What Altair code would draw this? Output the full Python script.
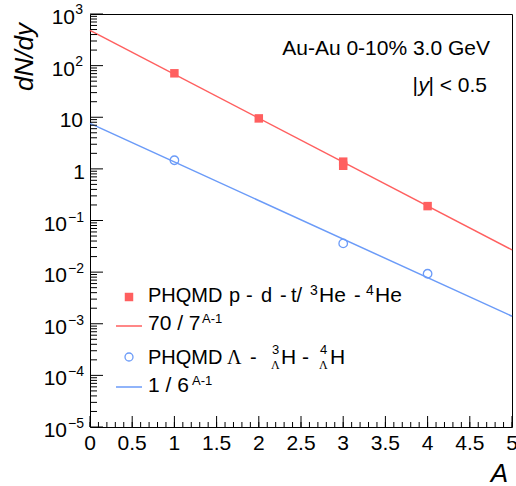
import altair as alt
import pandas as pd

# ---- data ----
A_nuclei = [1, 2, 3, 3, 4]
dndy_nuclei = [71, 9.5, 1.38, 1.15, 0.19]
A_hyper = [1, 3, 4]
dndy_hyper = [1.47, 0.036, 0.0093]
fit_A = [0, 5]
fit_nuclei = [480, 0.027]
fit_hyper = [7.6, 0.0014]

x_ticks = [0, 0.5, 1, 1.5, 2, 2.5, 3, 3.5, 4, 4.5, 5]
x_tick_labels = ["0", "0.5", "1", "1.5", "2", "2.5", "3", "3.5", "4", "4.5", "5"]
x_minor = [i / 10 for i in range(51)]
y_exps = [-5, -4, -3, -2, -1, 0, 1, 2, 3]
y_minor = [m * 10.0 ** k for k in range(-5, 3) for m in range(2, 10)]

RED = "#ff5f5f"
BLUE = "#6b9bf8"
FONT = "Liberation Sans"
W, H = 422, 413

xs = alt.Scale(domain=[0, 5], nice=False, zero=False)
ys = alt.Scale(type="log", domain=[1e-5, 1e3], nice=False)

def X(f):
    return alt.X(f, scale=xs, axis=None)

def Y(f):
    return alt.Y(f, scale=ys, axis=None)

def one():
    return pd.DataFrame({"t": [""]})

def txt(s, x, y, size=20, align="left", style="normal", font=FONT, angle=None, dy=0):
    kw = dict(align=align, baseline="alphabetic", fontSize=size, font=font,
              fontStyle=style, color="black")
    if angle is not None:
        kw["angle"] = angle
    if dy:
        kw["dy"] = dy
    return alt.Chart(pd.DataFrame({"t": [s]})).mark_text(**kw).encode(
        text="t:N", x=alt.value(x), y=alt.value(y))

layers = []

# fit lines
fitdf = pd.DataFrame({"A": fit_A, "red": fit_nuclei, "blue": fit_hyper})
layers.append(alt.Chart(fitdf).mark_line(color=RED, strokeWidth=1.5).encode(x=X("A:Q"), y=Y("red:Q")))
layers.append(alt.Chart(fitdf).mark_line(color=BLUE, strokeWidth=1.5).encode(x=X("A:Q"), y=Y("blue:Q")))

# points
ndf = pd.DataFrame({"A": A_nuclei, "v": dndy_nuclei})
hdf = pd.DataFrame({"A": A_hyper, "v": dndy_hyper})
layers.append(alt.Chart(ndf).mark_point(shape="square", filled=True, color=RED, size=72, opacity=1)
              .encode(x=X("A:Q"), y=Y("v:Q")))
layers.append(alt.Chart(hdf).mark_point(shape="circle", filled=False, color=BLUE, size=72,
                                        strokeWidth=1.3, opacity=1)
              .encode(x=X("A:Q"), y=Y("v:Q")))

# inner ticks
ymaj = pd.DataFrame({"v": [10.0 ** k for k in y_exps]})
ymin = pd.DataFrame({"v": y_minor})
layers.append(alt.Chart(ymaj).mark_rule(color="black", strokeWidth=1)
              .encode(y=Y("v:Q"), x=alt.value(0), x2=alt.value(13)))
layers.append(alt.Chart(ymin).mark_rule(color="black", strokeWidth=1)
              .encode(y=Y("v:Q"), x=alt.value(0), x2=alt.value(7)))
xmaj = pd.DataFrame({"A": x_ticks})
xmin = pd.DataFrame({"A": x_minor})
layers.append(alt.Chart(xmaj).mark_rule(color="black", strokeWidth=1)
              .encode(x=X("A:Q"), y=alt.value(H), y2=alt.value(H - 11)))
layers.append(alt.Chart(xmin).mark_rule(color="black", strokeWidth=1)
              .encode(x=X("A:Q"), y=alt.value(H), y2=alt.value(H - 5)))

# x tick labels
xl = pd.DataFrame({"A": x_ticks, "lab": x_tick_labels})
layers.append(alt.Chart(xl).mark_text(align="center", baseline="alphabetic", fontSize=21, font=FONT, color="black")
              .encode(x=X("A:Q"), y=alt.value(H + 23), text="lab:N"))

# y tick labels (base + superscript)
def sup_text(k):
    return ("\u2212" + str(-k)) if k < 0 else str(k)

neg = pd.DataFrame({"v": [10.0 ** k for k in y_exps if k < 0],
                    "b": ["10" for k in y_exps if k < 0],
                    "s": [sup_text(k) for k in y_exps if k < 0]})
pos = pd.DataFrame({"v": [10.0 ** k for k in y_exps if k >= 2],
                    "b": ["10" for k in y_exps if k >= 2],
                    "s": [sup_text(k) for k in y_exps if k >= 2]})
ten = pd.DataFrame({"v": [10.0], "b": ["10"]})
unit = pd.DataFrame({"v": [1.0], "b": ["1"]})
lab_kw = dict(align="right", baseline="alphabetic", font=FONT, color="black")
layers.append(alt.Chart(neg).mark_text(fontSize=21, dy=10, **lab_kw).encode(y=Y("v:Q"), x=alt.value(-23), text="b:N"))
layers.append(alt.Chart(neg).mark_text(fontSize=14, dy=1, **lab_kw).encode(y=Y("v:Q"), x=alt.value(-6), text="s:N"))
layers.append(alt.Chart(pos).mark_text(fontSize=21, dy=10, **lab_kw).encode(y=Y("v:Q"), x=alt.value(-15), text="b:N"))
layers.append(alt.Chart(pos).mark_text(fontSize=14, dy=0, **lab_kw).encode(y=Y("v:Q"), x=alt.value(-7), text="s:N"))
layers.append(alt.Chart(ten).mark_text(fontSize=21, dy=10, **lab_kw).encode(y=Y("v:Q"), x=alt.value(-7), text="b:N"))
layers.append(alt.Chart(unit).mark_text(fontSize=21, dy=10, **lab_kw).encode(y=Y("v:Q"), x=alt.value(-5), text="b:N"))

# axis titles
layers.append(txt("dN/dy", -57, 9, size=26, align="right", style="italic", angle=270))
layers.append(txt("A", 418, 468, size=26, align="right", style="italic"))

# annotations
layers.append(txt("Au-Au 0-10% 3.0 GeV", 400, 41, size=21, align="right"))
layers.append(txt("| < 0.5", 397, 78, size=21, align="right"))
layers.append(txt("y", 339, 78, size=21, align="right", style="italic"))
layers.append(txt("|", 328, 78, size=21, align="right"))

# legend symbols
layers.append(alt.Chart(one()).mark_point(shape="square", filled=True, color=RED, size=72, opacity=1)
              .encode(x=alt.value(39), y=alt.value(283)))
layers.append(alt.Chart(one()).mark_rule(color=RED, strokeWidth=1.5)
              .encode(x=alt.value(26), x2=alt.value(52), y=alt.value(312)))
layers.append(alt.Chart(one()).mark_point(shape="circle", filled=False, color=BLUE, size=64,
                                         strokeWidth=1.3, opacity=1)
              .encode(x=alt.value(39), y=alt.value(343)))
layers.append(alt.Chart(one()).mark_rule(color=BLUE, strokeWidth=1.5)
              .encode(x=alt.value(26), x2=alt.value(52), y=alt.value(373)))

# legend texts
r1, r2, r3, r4 = 288, 316, 350, 378
for s, x in [("PHQMD", 58), ("p", 139), ("-", 156), ("d", 171), ("-", 190), ("t/", 201),
             ("He", 229), ("-", 264), ("He", 285)]:
    layers.append(txt(s, x, r1, size=21 if s == "He" else 20))
layers.append(txt("3", 220, r1 - 7, size=14))
layers.append(txt("4", 276, r1 - 7, size=14))

layers.append(txt("70 / 7", 58, r2, size=21))
layers.append(txt("A-1", 112, r2 - 7, size=13))

layers.append(txt("PHQMD", 58, r3))
layers.append(txt("\u039b", 137, r3, font="Liberation Serif"))
layers.append(txt("-", 160, r3))
layers.append(txt("3", 182, r3 - 10, size=13))
layers.append(txt("\u039b", 181, r3 + 5, size=12, font="Liberation Serif"))
layers.append(txt("H -", 191, r3, size=21))
layers.append(txt("4", 230, r3 - 10, size=13))
layers.append(txt("\u039b", 229, r3 + 5, size=12, font="Liberation Serif"))
layers.append(txt("H", 240, r3, size=21))

layers.append(txt("1 / 6", 58, r4, size=21))
layers.append(txt("A-1", 102, r4 - 7, size=13))

chart = alt.layer(*layers).properties(
    width=W, height=H,
    autosize=alt.AutoSizeParams(type="none"),
    padding={"left": 90, "top": 14, "right": 4, "bottom": 59},
    background="white",
).configure_view(stroke="black", strokeWidth=1)

chart.save("out.html", embed_options={"renderer": "svg", "actions": False})
